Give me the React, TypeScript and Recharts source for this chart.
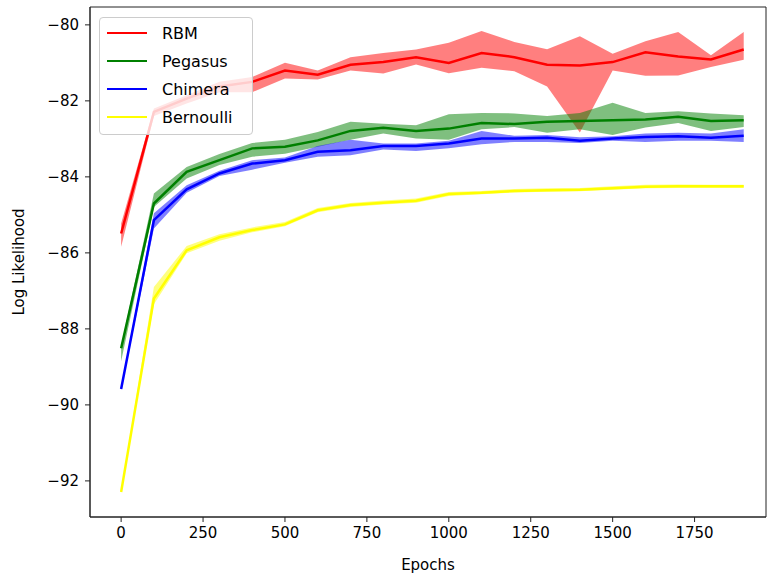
import React from "react";
import {
  ComposedChart,
  Line,
  Area,
  XAxis,
  YAxis,
  Label,
  ReferenceArea,
} from "recharts";

const epochs = [0, 100, 200, 300, 400, 500, 600, 700, 800, 900, 1000, 1100, 1200, 1300, 1400, 1500, 1600, 1700, 1800, 1900];

const rbm = [-85.49, -82.29, -81.94, -81.62, -81.5, -81.2, -81.31, -81.05, -80.98, -80.85, -81.0, -80.74, -80.85, -81.05, -81.07, -80.98, -80.72, -80.83, -80.91, -80.65];
const rbmLo = [-85.84, -82.4, -82.07, -81.77, -81.77, -81.41, -81.44, -81.2, -81.28, -81.04, -81.27, -81.13, -81.22, -81.62, -82.83, -81.2, -81.34, -81.33, -81.11, -80.92];
const rbmHi = [-85.23, -82.2, -81.85, -81.5, -81.37, -81.0, -81.2, -80.85, -80.74, -80.65, -80.47, -80.16, -80.45, -80.64, -80.3, -80.76, -80.43, -80.19, -80.8, -80.19];

const pegasus = [-88.51, -84.7, -83.87, -83.56, -83.25, -83.21, -83.04, -82.79, -82.71, -82.79, -82.73, -82.58, -82.61, -82.55, -82.53, -82.51, -82.49, -82.42, -82.53, -82.51];
const pegasusLo = [-88.85, -84.79, -84.04, -83.69, -83.47, -83.39, -83.21, -83.02, -82.86, -82.99, -83.02, -82.75, -82.69, -82.84, -82.75, -82.9, -82.7, -82.58, -82.79, -82.69];
const pegasusHi = [-88.45, -84.44, -83.74, -83.4, -83.11, -83.02, -82.82, -82.55, -82.6, -82.64, -82.35, -82.32, -82.33, -82.4, -82.32, -82.05, -82.32, -82.27, -82.33, -82.38];

const chimera = [-89.58, -85.14, -84.33, -83.91, -83.65, -83.56, -83.34, -83.3, -83.19, -83.19, -83.12, -82.99, -82.99, -82.97, -83.05, -82.99, -82.95, -82.93, -82.97, -82.92];
const chimeraLo = [-89.62, -85.36, -84.42, -83.98, -83.81, -83.63, -83.47, -83.43, -83.28, -83.32, -83.25, -83.14, -83.08, -83.08, -83.11, -83.05, -83.08, -83.05, -83.05, -83.08];
const chimeraHi = [-89.54, -84.96, -84.22, -83.84, -83.56, -83.49, -83.19, -83.02, -83.12, -83.12, -83.05, -82.79, -82.92, -82.9, -82.96, -82.93, -82.86, -82.84, -82.86, -82.75];

const bernoulli = [-92.29, -87.2, -85.93, -85.59, -85.4, -85.25, -84.88, -84.74, -84.68, -84.63, -84.45, -84.42, -84.37, -84.35, -84.34, -84.3, -84.26, -84.25, -84.25, -84.25];
const bernoulliLo = [-92.31, -87.35, -86.01, -85.68, -85.46, -85.3, -84.93, -84.79, -84.73, -84.68, -84.5, -84.46, -84.41, -84.39, -84.38, -84.34, -84.3, -84.29, -84.29, -84.29];
const bernoulliHi = [-92.27, -86.9, -85.82, -85.51, -85.33, -85.19, -84.82, -84.69, -84.62, -84.57, -84.4, -84.37, -84.32, -84.3, -84.29, -84.25, -84.21, -84.2, -84.21, -84.21];

const xTicks = [0, 250, 500, 750, 1000, 1250, 1500, 1750];
const yTicks = [-92, -90, -88, -86, -84, -82, -80];

const series = [
  { key: "rbm", name: "RBM", color: "#ff0000", mean: rbm, lo: rbmLo, hi: rbmHi },
  { key: "pegasus", name: "Pegasus", color: "#008000", mean: pegasus, lo: pegasusLo, hi: pegasusHi },
  { key: "chimera", name: "Chimera", color: "#0000ff", mean: chimera, lo: chimeraLo, hi: chimeraHi },
  { key: "bernoulli", name: "Bernoulli", color: "#ffff00", mean: bernoulli, lo: bernoulliLo, hi: bernoulliHi },
];

const data = epochs.map((epoch, i) => {
  const row: Record<string, any> = { epoch };
  series.forEach((s) => {
    row[s.key] = s.mean[i];
    row[s.key + "Band"] = [s.lo[i], s.hi[i]];
  });
  return row;
});

const FONT = "'DejaVu Sans', sans-serif";
const fmt = (v: number) => String(v).replace("-", "\u2212");

// legend drawn over the plot, like matplotlib's framed legend
const LegendBox = () => (
  <div
    style={{
      position: "absolute",
      left: 99,
      top: 17,
      width: 152,
      height: 116,
      border: "1px solid #cccccc",
      borderRadius: 4,
      background: "rgba(255,255,255,0.8)",
      fontFamily: FONT,
      fontSize: 16,
      color: "#000",
    }}
  >
    {series.map((s, i) => (
      <div key={s.key} style={{ position: "absolute", left: 7, top: 5 + i * 28, height: 20, display: "flex", alignItems: "center" }}>
        <div style={{ width: 40, height: 2.5, background: s.color }} />
        <span style={{ marginLeft: 15 }}>{s.name}</span>
      </div>
    ))}
  </div>
);

export default function App() {
  return (
    <div style={{ position: "absolute", left: 0, top: 0, width: 767, height: 576, background: "#fff" }}>
      <ComposedChart width={767} height={576} data={data} margin={{ top: 7, right: 1, bottom: 0, left: 0 }}>
        <XAxis
          dataKey="epoch"
          type="number"
          domain={[-95, 1968]}
          ticks={xTicks}
          allowDataOverflow
          height={59}
          tickSize={5}
          tickMargin={5}
          stroke="#222"
          tick={{ fill: "#000", fontSize: 15, fontFamily: FONT }}
        >
          <Label
            content={() => (
              <text x={428} y={565} textAnchor="middle" dominantBaseline="central" fontSize={15} fontFamily={FONT} fill="#000">
                Epochs
              </text>
            )}
          />
        </XAxis>
        <YAxis
          type="number"
          domain={[-92.95, -79.53]}
          ticks={yTicks}
          allowDataOverflow
          width={90}
          tickSize={5}
          tickMargin={6}
          stroke="#222"
          tickFormatter={fmt}
          tick={{ fill: "#000", fontSize: 15, fontFamily: FONT }}
        >
          <Label
            content={() => (
              <text x={19} y={262} transform="rotate(-90 19 262)" textAnchor="middle" dominantBaseline="central" fontSize={15} fontFamily={FONT} fill="#000">
                Log Likelihood
              </text>
            )}
          />
        </YAxis>
        {series.map((s) => (
          <Area
            key={s.key + "Band"}
            dataKey={s.key + "Band"}
            type="linear"
            stroke="none"
            fill={s.color}
            fillOpacity={0.5}
            isAnimationActive={false}
            activeDot={false}
            legendType="none"
          />
        ))}
        {series.map((s) => (
          <Line
            key={s.key}
            dataKey={s.key}
            name={s.name}
            type="linear"
            stroke={s.color}
            strokeWidth={2.5}
            dot={false}
            activeDot={false}
            isAnimationActive={false}
          />
        ))}
        <ReferenceArea x1={-95} x2={1968} y1={-92.95} y2={-79.53} fill="none" stroke="#222" strokeWidth={1} ifOverflow="visible" />
      </ComposedChart>
      <LegendBox />
    </div>
  );
}
